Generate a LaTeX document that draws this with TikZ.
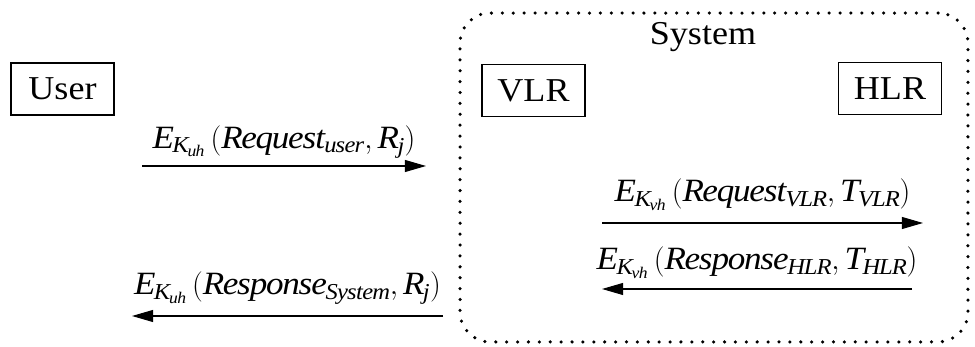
\documentclass[tikz,border=0pt]{standalone}
\usepackage{fontspec}
\setmainfont[FakeStretch=1.08]{Liberation Serif}
\usetikzlibrary{arrows.meta}

\begin{document}
\begin{tikzpicture}[
  x=0.02cm, y=-0.02cm,
  entitybox/.style={draw, line width=0.6pt, minimum width=2.06cm,
                    minimum height=1.04cm, inner sep=0pt,
                    font=\fontsize{19}{22}\selectfont},
  msgarrow/.style={-{Triangle[length=12pt, width=6.8pt]}, line width=0.6pt},
  msglabel/.style={anchor=base, yshift=11pt, inner sep=0pt,
                   font=\fontsize{18.5}{21}\selectfont},
  systemframe/.style={draw, rounded corners=17pt, line width=2pt,
                      line cap=round, dash pattern=on 0pt off 6.2pt,
                      minimum width=10.16cm, minimum height=6.58cm}
]
  \useasboundingbox (0,0) rectangle (975,347);

  \node[systemframe] (sysframe) at (714,177.5) {};
  \node[font=\fontsize{19}{22}\selectfont] (systxt) at (703,37) {System};

  \node[entitybox] (user) at (62.5,89) {User};
  \node[entitybox] (vlr)  at (533.5,90.5) {VLR};
  \node[entitybox] (hlr)  at (890,88.5) {HLR};

  \coordinate (usrout) at (142,166);
  \coordinate (sysin)  at (426,166);
  \coordinate (sysout) at (443,316);
  \coordinate (usrin)  at (132,316);
  \coordinate (vlrout) at (602,223);
  \coordinate (hlrin)  at (923,223);
  \coordinate (hlrout) at (912,289);
  \coordinate (vlrin)  at (602,289);

  \draw[msgarrow] (usrout) -- node[msglabel, yshift=-1pt] (requsr)
    {$\mathit{E_{K_{uh}}\,(Request_{user},R_j)}$} (sysin);
  \draw[msgarrow] (sysout) -- node[msglabel, yshift=1pt] (respsys)
    {$\mathit{E_{K_{uh}}\,(Response_{System},R_j)}$} (usrin);
  \draw[msgarrow] (vlrout) -- node[msglabel, yshift=1pt] (reqvlr)
    {$\mathit{E_{K_{vh}}\,(Request_{VLR},T_{VLR})}$} (hlrin);
  \draw[msgarrow] (hlrout) -- node[msglabel] (resphlr)
    {$\mathit{E_{K_{vh}}\,(Response_{HLR},T_{HLR})}$} (vlrin);
\end{tikzpicture}
\end{document}
